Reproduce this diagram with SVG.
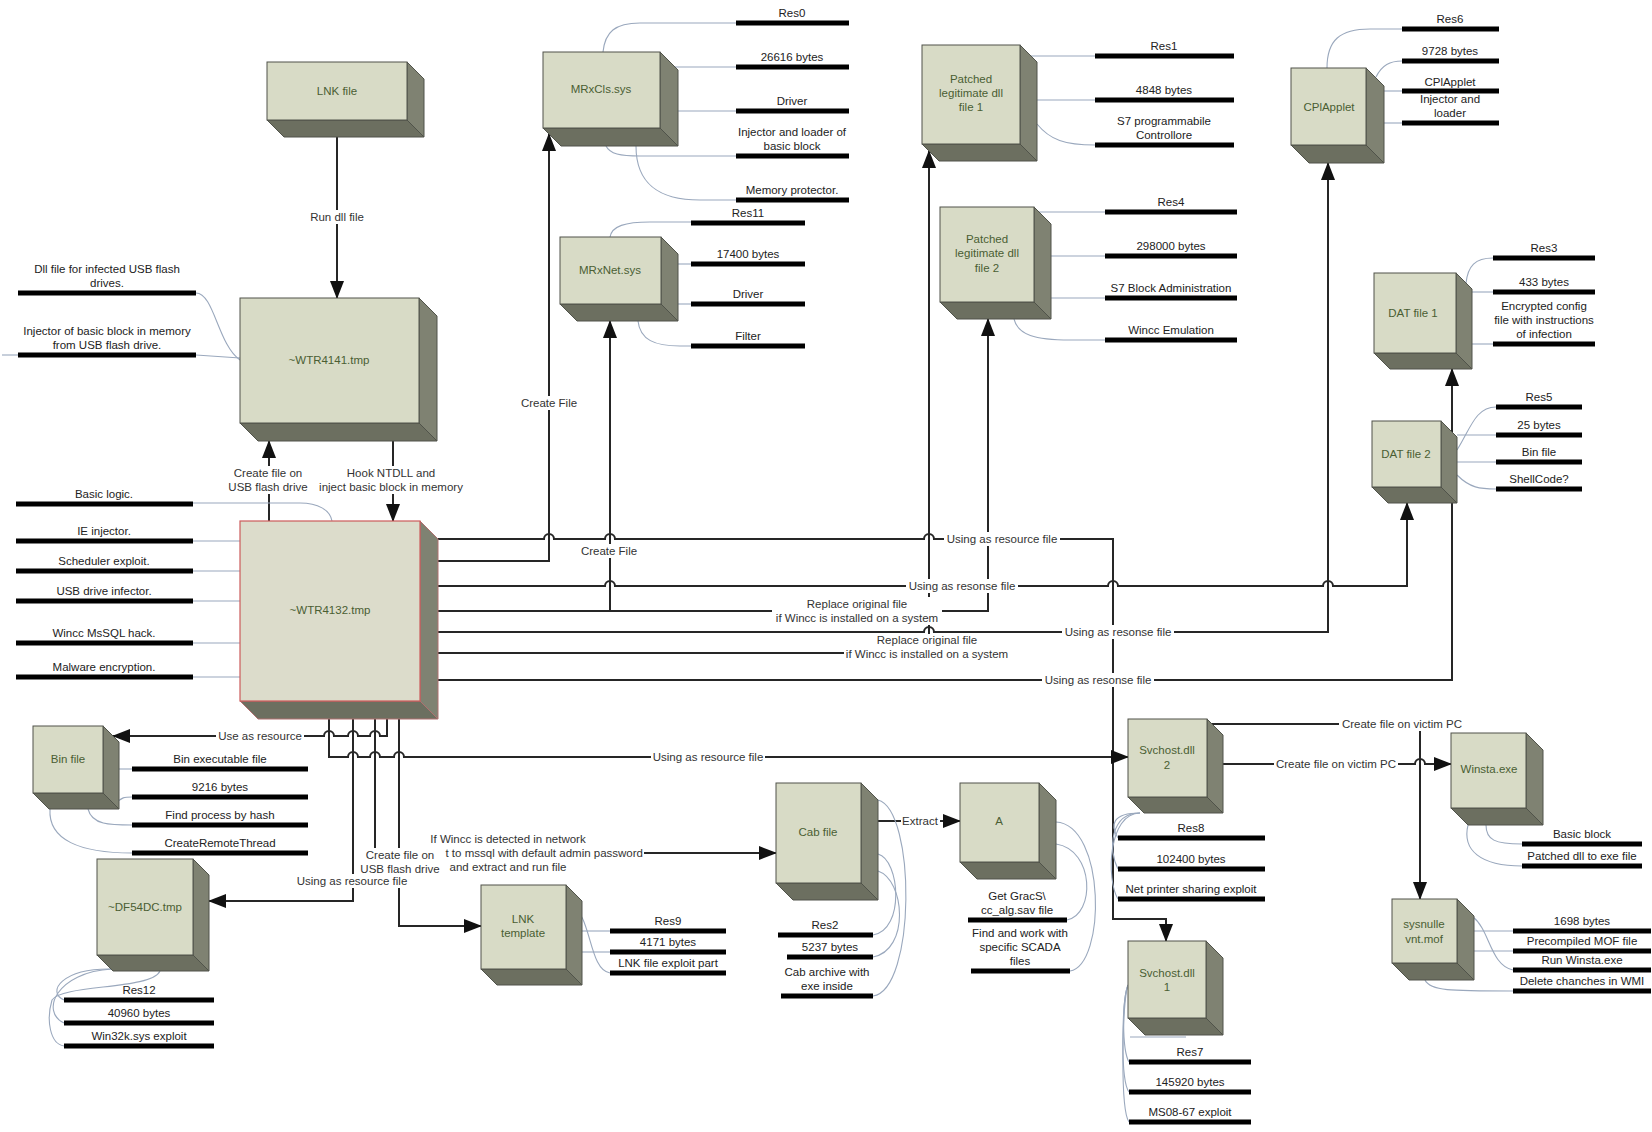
<svg xmlns="http://www.w3.org/2000/svg" width="1652" height="1132" viewBox="0 0 1652 1132">
<style>
.f{fill:#d8dbc6;stroke:#50534a;stroke-width:1}
.s{fill:#7f8272;stroke:#50534a;stroke-width:1}
.b{fill:#6c6f60;stroke:#50534a;stroke-width:1}
.mf{fill:#dcdccb;stroke:#cc5b5b;stroke-width:1.2}
.nt{font-family:"Liberation Sans",Arial,sans-serif;font-size:11.5px;fill:#4a5e33;text-anchor:middle}
.dt{font-family:"Liberation Sans",Arial,sans-serif;font-size:11.5px;fill:#222;text-anchor:middle}
.lt{font-family:"Liberation Sans",Arial,sans-serif;font-size:11.5px;fill:#333;text-anchor:middle}
.bar{stroke:#000;stroke-width:5}
.ln{fill:none;stroke:#9aa8bd;stroke-width:1.1}
.c{fill:none;stroke:#262626;stroke-width:2}
.lb{fill:#fff}
</style>
<defs>
<marker id="ah" markerUnits="userSpaceOnUse" markerWidth="18" markerHeight="14" refX="17" refY="7" orient="auto"><path d="M0,0 L18,7 L0,14 z" fill="#111"/></marker>
</defs>
<rect width="1652" height="1132" fill="#fff"/>

<g id="connectors">
<path class="c" marker-end="url(#ah)" d="M337,137 V298"/>
<path class="c" marker-end="url(#ah)" d="M269,521 V441"/>
<path class="c" marker-end="url(#ah)" d="M393,441 V521"/>
<path class="c" marker-end="url(#ah)" d="M438,539 H544 a5,5 0 0 1 10,0 H605 a5,5 0 0 1 10,0 H924 a5,5 0 0 1 10,0 H1113 V919 H1166 V941"/>
<path class="c" marker-end="url(#ah)" d="M438,561 H549 V134"/>
<path class="c" marker-end="url(#ah)" d="M438,586 H605 a5,5 0 0 1 10,0 H1108 a5,5 0 0 1 10,0 H1323 a5,5 0 0 1 10,0 H1407 V503"/>
<path class="c" marker-end="url(#ah)" d="M438,611 H988 V319"/>
<path class="c" marker-end="url(#ah)" d="M610,611 V321"/>
<path class="c" marker-end="url(#ah)" d="M438,632 H924 a5,5 0 0 1 10,0 H1328 V163"/>
<path class="c" marker-end="url(#ah)" d="M438,653 H929 V151"/>
<path class="c" marker-end="url(#ah)" d="M438,680 H1452 V369"/>
<path class="c" marker-end="url(#ah)" d="M329,719 V757 H348 a5,5 0 0 1 10,0 H370 a5,5 0 0 1 10,0 H394 a5,5 0 0 1 10,0 H1128"/>
<path class="c" marker-end="url(#ah)" d="M387,719 V736 H380 a5,5 0 0 0 -10,0 H358 a5,5 0 0 0 -10,0 H334 a5,5 0 0 0 -10,0 H113"/>
<path class="c" marker-end="url(#ah)" d="M353,719 V901 H209"/>
<path class="c" marker-end="url(#ah)" d="M375,719 V853 H776"/>
<path class="c" marker-end="url(#ah)" d="M399,719 V926 H481"/>
<path class="c" marker-end="url(#ah)" d="M878,821 H960"/>
<path class="c" marker-end="url(#ah)" d="M1212,724 H1420 V899"/>
<path class="c" marker-end="url(#ah)" d="M1223,764 H1415 a5,5 0 0 1 10,0 H1451"/>

<rect class="lb" x="307" y="210" width="60" height="14"/><text class="lt" x="337" y="221">Run dll file</text>
<rect class="lb" x="226" y="466" width="86" height="28"/><text class="lt" x="268" y="477">Create file on</text><text class="lt" x="268" y="491">USB flash drive</text>
<rect class="lb" x="314" y="466" width="154" height="28"/><text class="lt" x="391" y="477">Hook NTDLL and</text><text class="lt" x="391" y="491">inject basic block in memory</text>
<rect class="lb" x="518" y="396" width="62" height="14"/><text class="lt" x="549" y="407">Create File</text>
<rect class="lb" x="578" y="544" width="62" height="14"/><text class="lt" x="609" y="555">Create File</text>
<rect class="lb" x="944" y="532" width="116" height="14"/><text class="lt" x="1002" y="543">Using as resource file</text>
<rect class="lb" x="906" y="579" width="112" height="14"/><text class="lt" x="962" y="590">Using as resonse file</text>
<rect class="lb" x="772" y="597" width="170" height="28"/><text class="lt" x="857" y="608">Replace original file</text><text class="lt" x="857" y="622">if Wincc is installed on a system</text>
<rect class="lb" x="1062" y="625" width="112" height="14"/><text class="lt" x="1118" y="636">Using as resonse file</text>
<rect class="lb" x="844" y="634" width="168" height="26"/><text class="lt" x="927" y="644">Replace original file</text><text class="lt" x="927" y="658">if Wincc is installed on a system</text>
<rect class="lb" x="1042" y="673" width="112" height="14"/><text class="lt" x="1098" y="684">Using as resonse file</text>
<rect class="lb" x="216" y="729" width="88" height="14"/><text class="lt" x="260" y="740">Use as resource</text>
<rect class="lb" x="651" y="750" width="114" height="14"/><text class="lt" x="708" y="761">Using as resource file</text>
<rect class="lb" x="295" y="874" width="114" height="14"/><text class="lt" x="352" y="885">Using as resource file</text>
<rect class="lb" x="428" y="832" width="216" height="42"/><text class="lt" x="508" y="843">If Wincc is detected in network</text><text class="lt" x="643" y="857" style="text-anchor:end">t to mssql with default admin password</text><text class="lt" x="508" y="871">and extract and run file</text>
<rect class="lb" x="360" y="848" width="80" height="28"/><text class="lt" x="400" y="859">Create file on</text><text class="lt" x="400" y="873">USB flash drive</text>
<rect class="lb" x="901" y="814" width="39" height="14"/><text class="lt" x="920" y="825">Extract</text>
<rect class="lb" x="1339" y="717" width="127" height="14"/><text class="lt" x="1402" y="728">Create file on victim PC</text>
<rect class="lb" x="1274" y="757" width="124" height="14"/><text class="lt" x="1336" y="768">Create file on victim PC</text>
</g>

<g id="lnk-file">
<polygon class="s" points="407,62 424,79 424,137 407,120"/><polygon class="b" points="267,120 407,120 424,137 284,137"/><rect class="f" x="267" y="62" width="140" height="58"/>
<text class="nt" x="337" y="95">LNK file</text>
</g>

<g id="wtr4141">
<path class="ln" d="M196,293 C214,293 218,345 240,360"/><path class="ln" d="M196,355 L240,358"/><path class="ln" d="M2,355 H18"/>
<line class="bar" x1="18" y1="293" x2="196" y2="293"/><text class="dt" x="107" y="273">Dll file for infected USB flash</text><text class="dt" x="107" y="287">drives.</text>
<line class="bar" x1="18" y1="355" x2="196" y2="355"/><text class="dt" x="107" y="335">Injector of basic block in memory</text><text class="dt" x="107" y="349">from USB flash drive.</text>
<polygon class="s" points="419,298 437,316 437,441 419,423"/><polygon class="b" points="240,423 419,423 437,441 258,441"/><rect class="f" x="240" y="298" width="179" height="125"/>
<text class="nt" x="329" y="364">~WTR4141.tmp</text>
</g>

<g id="wtr4132">
<path class="ln" d="M193,503 H300 C318,503 330,510 332,521"/>
<path class="ln" d="M193,541 H240"/><path class="ln" d="M193,571 H240"/><path class="ln" d="M193,601 H240"/><path class="ln" d="M193,643 H240"/><path class="ln" d="M193,677 H240"/>
<line class="bar" x1="16" y1="504" x2="193" y2="504"/><text class="dt" x="104" y="498">Basic logic.</text>
<line class="bar" x1="16" y1="541" x2="193" y2="541"/><text class="dt" x="104" y="535">IE injector.</text>
<line class="bar" x1="16" y1="571" x2="193" y2="571"/><text class="dt" x="104" y="565">Scheduler exploit.</text>
<line class="bar" x1="16" y1="601" x2="193" y2="601"/><text class="dt" x="104" y="595">USB drive infector.</text>
<line class="bar" x1="16" y1="643" x2="193" y2="643"/><text class="dt" x="104" y="637">Wincc MsSQL hack.</text>
<line class="bar" x1="16" y1="677" x2="193" y2="677"/><text class="dt" x="104" y="671">Malware encryption.</text>
<polygon class="s" points="420,521 438,539 438,719 420,701" style="stroke:#b07070"/><polygon class="b" points="240,701 420,701 438,719 258,719" style="stroke:#b07070"/><rect class="mf" x="240" y="521" width="180" height="180"/>
<text class="nt" x="330" y="614">~WTR4132.tmp</text>
</g>

<g id="mrxcls">
<path class="ln" d="M603,52 C605,32 615,23 640,23 H736"/><path class="ln" d="M675,67 H736"/><path class="ln" d="M678,111 H736"/>
<path class="ln" d="M606,146 C610,154 620,156 640,156 H736"/><path class="ln" d="M636,146 C636,185 660,200 700,200 H736"/>
<line class="bar" x1="736" y1="23" x2="849" y2="23"/><text class="dt" x="792" y="17">Res0</text>
<line class="bar" x1="736" y1="67" x2="849" y2="67"/><text class="dt" x="792" y="61">26616 bytes</text>
<line class="bar" x1="736" y1="111" x2="849" y2="111"/><text class="dt" x="792" y="105">Driver</text>
<line class="bar" x1="736" y1="156" x2="849" y2="156"/><text class="dt" x="792" y="136">Injector and loader of</text><text class="dt" x="792" y="150">basic block</text>
<line class="bar" x1="736" y1="200" x2="849" y2="200"/><text class="dt" x="792" y="194">Memory protector.</text>
<polygon class="s" points="660,52 678,70 678,146 660,128"/><polygon class="b" points="543,128 660,128 678,146 561,146"/><rect class="f" x="543" y="52" width="117" height="76"/>
<text class="nt" x="601" y="93">MRxCls.sys</text>
</g>

<g id="mrxnet">
<path class="ln" d="M610,237 C612,226 625,222 650,222 H691"/><path class="ln" d="M678,264 H691"/><path class="ln" d="M678,304 H691"/><path class="ln" d="M638,321 C640,340 655,346 680,346 H691"/>
<line class="bar" x1="691" y1="223" x2="805" y2="223"/><text class="dt" x="748" y="217">Res11</text>
<line class="bar" x1="691" y1="264" x2="805" y2="264"/><text class="dt" x="748" y="258">17400 bytes</text>
<line class="bar" x1="691" y1="304" x2="805" y2="304"/><text class="dt" x="748" y="298">Driver</text>
<line class="bar" x1="691" y1="346" x2="805" y2="346"/><text class="dt" x="748" y="340">Filter</text>
<polygon class="s" points="661,237 678,254 678,321 661,304"/><polygon class="b" points="560,304 661,304 678,321 577,321"/><rect class="f" x="560" y="237" width="101" height="67"/>
<text class="nt" x="610" y="274">MRxNet.sys</text>
</g>

<g id="patched-dll-1">
<path class="ln" d="M1031,56 H1095"/><path class="ln" d="M1037,100 H1095"/><path class="ln" d="M1037,124 C1050,140 1065,145 1095,145"/>
<line class="bar" x1="1095" y1="56" x2="1234" y2="56"/><text class="dt" x="1164" y="50">Res1</text>
<line class="bar" x1="1095" y1="100" x2="1234" y2="100"/><text class="dt" x="1164" y="94">4848 bytes</text>
<line class="bar" x1="1095" y1="145" x2="1234" y2="145"/><text class="dt" x="1164" y="125">S7 programmabile</text><text class="dt" x="1164" y="139">Controllore</text>
<polygon class="s" points="1020,45 1037,62 1037,161 1020,144"/><polygon class="b" points="922,144 1020,144 1037,161 939,161"/><rect class="f" x="922" y="45" width="98" height="99"/>
<text class="nt" x="971" y="83">Patched</text><text class="nt" x="971" y="97">legitimate dll</text><text class="nt" x="971" y="111">file 1</text>
</g>

<g id="patched-dll-2">
<path class="ln" d="M1039,212 H1105"/><path class="ln" d="M1051,256 H1105"/><path class="ln" d="M1051,298 H1105"/><path class="ln" d="M1014,319 C1018,335 1035,340 1070,340 H1105"/>
<line class="bar" x1="1105" y1="212" x2="1237" y2="212"/><text class="dt" x="1171" y="206">Res4</text>
<line class="bar" x1="1105" y1="256" x2="1237" y2="256"/><text class="dt" x="1171" y="250">298000 bytes</text>
<line class="bar" x1="1105" y1="298" x2="1237" y2="298"/><text class="dt" x="1171" y="292">S7 Block Administration</text>
<line class="bar" x1="1105" y1="340" x2="1237" y2="340"/><text class="dt" x="1171" y="334">Wincc Emulation</text>
<polygon class="s" points="1034,207 1051,224 1051,319 1034,302"/><polygon class="b" points="940,302 1034,302 1051,319 957,319"/><rect class="f" x="940" y="207" width="94" height="95"/>
<text class="nt" x="987" y="243">Patched</text><text class="nt" x="987" y="257">legitimate dll</text><text class="nt" x="987" y="272">file 2</text>
</g>

<g id="cplapplet">
<path class="ln" d="M1327,68 C1327,40 1340,29 1370,29 H1402"/><path class="ln" d="M1376,77 C1382,65 1390,61 1402,61"/><path class="ln" d="M1384,91 H1402"/><path class="ln" d="M1384,123 H1402"/>
<line class="bar" x1="1402" y1="29" x2="1499" y2="29"/><text class="dt" x="1450" y="23">Res6</text>
<line class="bar" x1="1402" y1="61" x2="1499" y2="61"/><text class="dt" x="1450" y="55">9728 bytes</text>
<line class="bar" x1="1402" y1="91" x2="1499" y2="91"/><text class="dt" x="1450" y="86">CPlApplet</text>
<line class="bar" x1="1402" y1="123" x2="1499" y2="123"/><text class="dt" x="1450" y="103">Injector and</text><text class="dt" x="1450" y="117">loader</text>
<polygon class="s" points="1366,68 1384,86 1384,163 1366,145"/><polygon class="b" points="1291,145 1366,145 1384,163 1309,163"/><rect class="f" x="1291" y="68" width="75" height="77"/>
<text class="nt" x="1329" y="111">CPlApplet</text>
</g>

<g id="dat-file-1">
<path class="ln" d="M1466,283 C1468,266 1475,258 1493,258"/><path class="ln" d="M1472,292 H1493"/><path class="ln" d="M1472,344 H1493"/>
<line class="bar" x1="1493" y1="258" x2="1595" y2="258"/><text class="dt" x="1544" y="252">Res3</text>
<line class="bar" x1="1493" y1="292" x2="1595" y2="292"/><text class="dt" x="1544" y="286">433 bytes</text>
<line class="bar" x1="1493" y1="344" x2="1595" y2="344"/><text class="dt" x="1544" y="310">Encrypted config</text><text class="dt" x="1544" y="324">file with instructions</text><text class="dt" x="1544" y="338">of infection</text>
<polygon class="s" points="1456,273 1472,289 1472,369 1456,353"/><polygon class="b" points="1374,353 1456,353 1472,369 1390,369"/><rect class="f" x="1374" y="273" width="82" height="80"/>
<text class="nt" x="1413" y="317">DAT file 1</text>
</g>

<g id="dat-file-2">
<path class="ln" d="M1457,450 C1470,430 1475,407 1496,407"/><path class="ln" d="M1457,435 H1496"/><path class="ln" d="M1457,462 H1496"/><path class="ln" d="M1457,475 C1470,488 1480,489 1496,489"/>
<line class="bar" x1="1496" y1="407" x2="1582" y2="407"/><text class="dt" x="1539" y="401">Res5</text>
<line class="bar" x1="1496" y1="435" x2="1582" y2="435"/><text class="dt" x="1539" y="429">25 bytes</text>
<line class="bar" x1="1496" y1="462" x2="1582" y2="462"/><text class="dt" x="1539" y="456">Bin file</text>
<line class="bar" x1="1496" y1="489" x2="1582" y2="489"/><text class="dt" x="1539" y="483">ShellCode?</text>
<polygon class="s" points="1441,421 1457,437 1457,503 1441,487"/><polygon class="b" points="1372,487 1441,487 1457,503 1388,503"/><rect class="f" x="1372" y="421" width="69" height="66"/>
<text class="nt" x="1406" y="458">DAT file 2</text>
</g>

<g id="bin-file">
<path class="ln" d="M119,769 H132"/><path class="ln" d="M116,804 C121,797 125,797 132,797"/><path class="ln" d="M88,809 C92,825 110,825 132,825"/><path class="ln" d="M50,809 C48,840 80,853 132,853"/>
<line class="bar" x1="132" y1="769" x2="308" y2="769"/><text class="dt" x="220" y="763">Bin executable file</text>
<line class="bar" x1="132" y1="797" x2="308" y2="797"/><text class="dt" x="220" y="791">9216 bytes</text>
<line class="bar" x1="132" y1="825" x2="308" y2="825"/><text class="dt" x="220" y="819">Find process by hash</text>
<line class="bar" x1="132" y1="853" x2="308" y2="853"/><text class="dt" x="220" y="847">CreateRemoteThread</text>
<polygon class="s" points="103,726 119,742 119,809 103,793"/><polygon class="b" points="33,793 103,793 119,809 49,809"/><rect class="f" x="33" y="726" width="70" height="67"/>
<text class="nt" x="68" y="763">Bin file</text>
</g>

<g id="df54dc">
<path class="ln" d="M112,969 C62,968 46,992 64,1000"/><path class="ln" d="M112,969 C56,972 40,1012 64,1023"/><path class="ln" d="M160,971 C152,990 62,984 52,1000 C46,1020 50,1044 64,1046"/>
<line class="bar" x1="64" y1="1000" x2="214" y2="1000"/><text class="dt" x="139" y="994">Res12</text>
<line class="bar" x1="64" y1="1023" x2="214" y2="1023"/><text class="dt" x="139" y="1017">40960 bytes</text>
<line class="bar" x1="64" y1="1046" x2="214" y2="1046"/><text class="dt" x="139" y="1040">Win32k.sys exploit</text>
<polygon class="s" points="193,859 209,875 209,971 193,955"/><polygon class="b" points="97,955 193,955 209,971 113,971"/><rect class="f" x="97" y="859" width="96" height="96"/>
<text class="nt" x="145" y="911">~DF54DC.tmp</text>
</g>

<g id="lnk-template">
<path class="ln" d="M582,931 H610"/><path class="ln" d="M582,952 H610"/><path class="ln" d="M570,905 C592,912 588,970 610,973"/>
<line class="bar" x1="610" y1="931" x2="726" y2="931"/><text class="dt" x="668" y="925">Res9</text>
<line class="bar" x1="610" y1="952" x2="726" y2="952"/><text class="dt" x="668" y="946">4171 bytes</text>
<line class="bar" x1="610" y1="973" x2="726" y2="973"/><text class="dt" x="668" y="967">LNK file exploit part</text>
<polygon class="s" points="566,885 582,901 582,985 566,969"/><polygon class="b" points="481,969 566,969 582,985 497,985"/><rect class="f" x="481" y="885" width="85" height="84"/>
<text class="nt" x="523" y="923">LNK</text><text class="nt" x="523" y="937">template</text>
</g>

<g id="cab-file">
<path class="ln" d="M878,854 C900,860 905,930 873,935"/><path class="ln" d="M878,871 C905,880 910,950 873,957"/><path class="ln" d="M878,800 C916,810 916,990 873,996"/>
<line class="bar" x1="778" y1="935" x2="873" y2="935"/><text class="dt" x="825" y="929">Res2</text>
<line class="bar" x1="787" y1="957" x2="873" y2="957"/><text class="dt" x="830" y="951">5237 bytes</text>
<line class="bar" x1="781" y1="996" x2="873" y2="996"/><text class="dt" x="827" y="976">Cab archive with</text><text class="dt" x="827" y="990">exe inside</text>
<polygon class="s" points="861,783 878,800 878,900 861,883"/><polygon class="b" points="776,883 861,883 878,900 793,900"/><rect class="f" x="776" y="783" width="85" height="100"/>
<text class="nt" x="818" y="836">Cab file</text>
</g>

<g id="a">
<path class="ln" d="M1056,844 C1095,850 1095,915 1067,920"/><path class="ln" d="M1056,822 C1106,825 1106,965 1070,971"/>
<line class="bar" x1="968" y1="920" x2="1067" y2="920"/><text class="dt" x="1017" y="900">Get GracS\</text><text class="dt" x="1017" y="914">cc_alg.sav file</text>
<line class="bar" x1="971" y1="971" x2="1070" y2="971"/><text class="dt" x="1020" y="937">Find and work with</text><text class="dt" x="1020" y="951">specific SCADA</text><text class="dt" x="1020" y="965">files</text>
<polygon class="s" points="1039,783 1056,800 1056,879 1039,862"/><polygon class="b" points="960,862 1039,862 1056,879 977,879"/><rect class="f" x="960" y="783" width="79" height="79"/>
<text class="nt" x="999" y="825">A</text>
</g>

<g id="svchost-dll-2">
<path class="ln" d="M1140,813 C1112,813 1110,825 1118,838"/><path class="ln" d="M1140,813 C1110,813 1108,850 1118,869"/><path class="ln" d="M1140,813 C1108,813 1106,880 1118,899"/>
<line class="bar" x1="1118" y1="838" x2="1265" y2="838"/><text class="dt" x="1191" y="832">Res8</text>
<line class="bar" x1="1118" y1="869" x2="1265" y2="869"/><text class="dt" x="1191" y="863">102400 bytes</text>
<line class="bar" x1="1118" y1="899" x2="1265" y2="899"/><text class="dt" x="1191" y="893">Net printer sharing exploit</text>
<polygon class="s" points="1207,719 1223,735 1223,813 1207,797"/><polygon class="b" points="1128,797 1207,797 1223,813 1144,813"/><rect class="f" x="1128" y="719" width="79" height="78"/>
<text class="nt" x="1167" y="754">Svchost.dll</text><text class="nt" x="1167" y="769">2</text>
</g>

<g id="svchost-dll-1">
<path class="ln" d="M1128,985 C1122,1000 1122,1050 1129,1062"/><path class="ln" d="M1128,985 C1122,1000 1120,1080 1129,1092"/><path class="ln" d="M1128,985 C1122,1000 1120,1110 1129,1122"/><path class="ln" d="M1186,1037 H1130"/>
<line class="bar" x1="1129" y1="1062" x2="1251" y2="1062"/><text class="dt" x="1190" y="1056">Res7</text>
<line class="bar" x1="1129" y1="1092" x2="1251" y2="1092"/><text class="dt" x="1190" y="1086">145920 bytes</text>
<line class="bar" x1="1129" y1="1122" x2="1251" y2="1122"/><text class="dt" x="1190" y="1116">MS08-67 exploit</text>
<polygon class="s" points="1206,941 1223,958 1223,1035 1206,1018"/><polygon class="b" points="1128,1018 1206,1018 1223,1035 1145,1035"/><rect class="f" x="1128" y="941" width="78" height="77"/>
<text class="nt" x="1167" y="977">Svchost.dll</text><text class="nt" x="1167" y="991">1</text>
</g>

<g id="winsta-exe">
<path class="ln" d="M1486,825 C1486,840 1495,844 1522,844"/><path class="ln" d="M1468,825 C1462,850 1480,866 1522,866"/>
<line class="bar" x1="1522" y1="844" x2="1642" y2="844"/><text class="dt" x="1582" y="838">Basic block</text>
<line class="bar" x1="1522" y1="866" x2="1642" y2="866"/><text class="dt" x="1582" y="860">Patched dll to exe file</text>
<polygon class="s" points="1526,733 1543,750 1543,825 1526,808"/><polygon class="b" points="1451,808 1526,808 1543,825 1468,825"/><rect class="f" x="1451" y="733" width="75" height="75"/>
<text class="nt" x="1489" y="773">Winsta.exe</text>
</g>

<g id="sysnullevnt-mof">
<path class="ln" d="M1474,931 H1513"/><path class="ln" d="M1474,951 H1513"/><path class="ln" d="M1473,917 C1490,930 1490,965 1513,970"/><path class="ln" d="M1425,980 C1430,991 1450,991 1513,991"/>
<line class="bar" x1="1513" y1="931" x2="1651" y2="931"/><text class="dt" x="1582" y="925">1698 bytes</text>
<line class="bar" x1="1513" y1="951" x2="1651" y2="951"/><text class="dt" x="1582" y="945">Precompiled MOF file</text>
<line class="bar" x1="1513" y1="970" x2="1651" y2="970"/><text class="dt" x="1582" y="964">Run Winsta.exe</text>
<line class="bar" x1="1513" y1="991" x2="1651" y2="991"/><text class="dt" x="1582" y="985">Delete chanches in WMI</text>
<polygon class="s" points="1457,899 1474,916 1474,980 1457,963"/><polygon class="b" points="1392,963 1457,963 1474,980 1409,980"/><rect class="f" x="1392" y="899" width="65" height="64"/>
<text class="nt" x="1424" y="928">sysnulle</text><text class="nt" x="1424" y="943">vnt.mof</text>
</g>
</svg>
